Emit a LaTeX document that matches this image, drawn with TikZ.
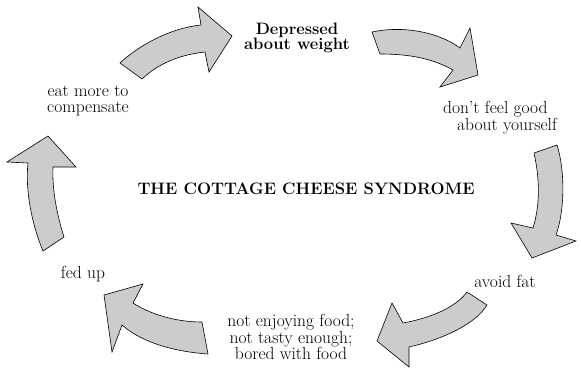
\documentclass[tikz,border=0pt]{standalone}
\definecolor{arrowgray}{gray}{0.8}
\begin{document}
\begin{tikzpicture}[x=1pt,y=-1pt,
  bigarrow/.style={draw=black,fill=arrowgray,line width=0.6pt,line join=miter},
  lbl/.style={font=\fontsize{17.5}{15}\selectfont,align=center,inner sep=0pt},
  lblb/.style={lbl,font=\fontsize{17.5}{15}\selectfont\bfseries}]
\useasboundingbox (0,0) rectangle (581,368);
% texts
\node[lblb,font=\fontsize{16.5}{14.5}\selectfont\bfseries] (dep) at (297,38) {Depressed\\about weight};
\node[lbl,align=left,anchor=west] (dont) at (443,118) {don't feel good\\\hspace*{14pt}about yourself};
\node[lbl] (avoid) at (505,281) {avoid fat};
\node[lbl] (notenj) at (291,337) {not enjoying food;\\not tasty enough;\\bored with food};
\node[lbl] (fed) at (83,274) {fed up};
\node[lbl,font=\fontsize{17.5}{16.5}\selectfont] (eat) at (88,101) {eat more to\\compensate};
\node[lblb,font=\fontsize{16.6}{14}\selectfont\bfseries] (title) at (306,189) {THE COTTAGE CHEESE SYNDROME};
% arrows
\draw[bigarrow] (120,63) .. controls (138,46) and (170,28) .. (201,25) -- (198,7) -- (232,36) -- (209,72) -- (205,52) .. controls (178,55) and (158,64) .. (142,79) -- cycle;
\draw[bigarrow] (372,32) .. controls (405,25) and (440,33) .. (460,48) -- (470,28) -- (478,75) -- (440,87) -- (453,70) .. controls (430,57) and (405,54) .. (380,54) -- cycle;
\draw[bigarrow] (534,153) -- (557,145) .. controls (565,170) and (565,210) .. (556,235) -- (576,241) -- (532,258) -- (511,223) -- (533,228) .. controls (540,205) and (540,180) .. (534,153) -- cycle;
\draw[bigarrow] (467,292) -- (487,305) .. controls (475,325) and (440,340) .. (409,347) -- (409,367) -- (377,341) -- (392,303) -- (403,323) .. controls (430,318) and (455,308) .. (467,292) -- cycle;
\draw[bigarrow] (202,322) -- (208,354) .. controls (180,352) and (145,345) .. (122,325) -- (112,352) -- (104,295) -- (143,284) -- (133,303) .. controls (150,314) and (175,322) .. (202,322) -- cycle;
\draw[bigarrow] (48,136) -- (76,167) -- (53,167) .. controls (52,190) and (57,215) .. (64,237) -- (43,251) .. controls (32,225) and (25,190) .. (28,163) -- (7,162) -- cycle;
\end{tikzpicture}
\end{document}
